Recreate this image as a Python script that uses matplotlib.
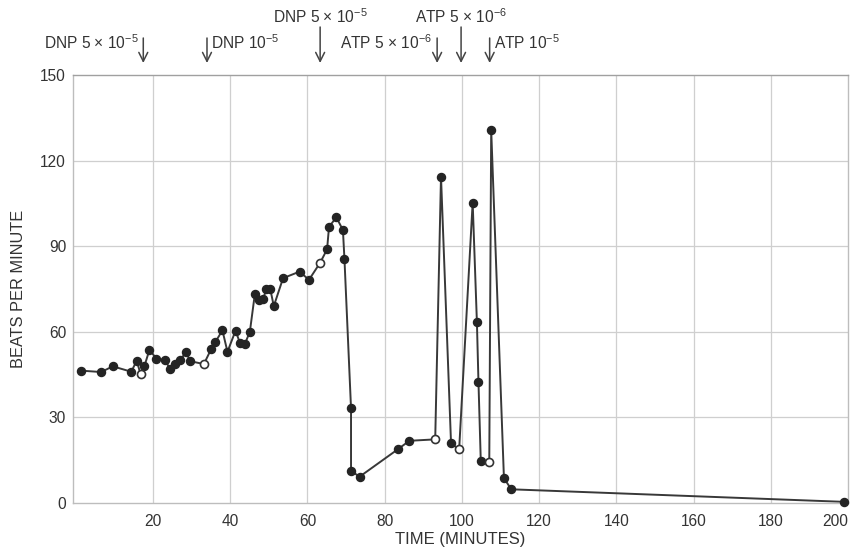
import matplotlib
matplotlib.use("Agg")
import matplotlib.pyplot as plt
from matplotlib.transforms import ScaledTranslation
import numpy as np

plt.rcParams['font.family'] = ['Liberation Sans', 'DejaVu Sans']
plt.rcParams['mathtext.fontset'] = 'custom'
plt.rcParams['mathtext.rm'] = 'Liberation Sans'

# Heart rate record: time (minutes) and beats per minute
time_min = [1.3, 6.6, 9.6, 14.4, 15.8, 16.8, 17.8, 19.1, 20.9, 23.2, 24.4, 25.6,
            27.1, 28.6, 29.6, 33.2, 35.1, 36.2, 38.0, 39.3, 41.4, 42.5, 43.8,
            45.1, 46.4, 47.5, 48.5, 49.4, 50.4, 51.3, 53.7, 58.0, 60.4, 63.3,
            65.1, 65.6, 67.5, 69.2, 69.6, 71.3, 71.3, 73.5, 83.4, 86.4, 93.1,
            94.6, 97.2, 99.3, 102.8, 103.9, 104.3, 104.9, 107.1, 107.6, 110.9,
            112.8, 199.0]
beats = [46.4, 45.9, 47.9, 46.0, 49.9, 45.1, 48.0, 53.7, 50.6, 50.1, 46.9, 48.7,
         50.1, 53.0, 49.7, 48.7, 54.0, 56.5, 60.5, 53.0, 60.4, 56.2, 55.7,
         60.0, 73.3, 71.2, 71.5, 74.9, 74.9, 69.0, 78.8, 81.1, 78.2, 84.2,
         88.9, 96.8, 100.1, 95.7, 85.4, 33.2, 11.3, 9.2, 18.8, 21.8, 22.3,
         114.4, 20.9, 18.8, 105.3, 63.3, 42.5, 14.8, 14.5, 130.7, 8.7,
         4.8, 0.4]
# readings taken at the moment a drug was added (open circles)
at_addition = [16.8, 33.2, 63.3, 93.1, 99.3, 107.1]

# drug additions marked above the plot
drug_times = [17.5, 34.0, 63.3, 93.6, 99.8, 107.2]
drug_labels = [r"DNP 5 $\times$ 10$^{-5}$", r"DNP 10$^{-5}$",
               r"DNP 5 $\times$ 10$^{-5}$", r"ATP 5 $\times$ 10$^{-6}$",
               r"ATP 5 $\times$ 10$^{-6}$", r"ATP 10$^{-5}$"]
label_side = ["left", "right", "top", "left", "top", "right"]

x_ticks = [20, 40, 60, 80, 100, 120, 140, 160, 180, 200]
y_ticks = [0, 30, 60, 90, 120, 150]

W, H = 852, 552
fig = plt.figure(figsize=(W / 100, H / 100), dpi=100)
ax = fig.add_axes([73 / W, 1 - 503 / H, (848 - 73) / W, (503 - 75) / H])

ax.set_xlim(-0.7, 199.6)
ax.set_ylim(0, 150)

grid_c = '#cfcfcf'
for xv in x_ticks[:-1]:
    ax.axvline(xv, color=grid_c, lw=0.9, zorder=0)
for yv in y_ticks[1:-1]:
    ax.axhline(yv, color=grid_c, lw=0.9, zorder=0)
for side, sp in ax.spines.items():
    sp.set_color('#bdbdbd')
    sp.set_linewidth(1.0)
ax.spines['top'].set_color('#a0a0a0')

line_c = '#383838'
ax.plot(time_min, beats, color=line_c, lw=1.4, zorder=2, clip_on=False)
is_open = np.isin(time_min, at_addition)
t_arr = np.array(time_min)
b_arr = np.array(beats)
ax.plot(t_arr[~is_open], b_arr[~is_open], 'o', ms=5.8, mfc='#242424',
        mec='#242424', zorder=3, clip_on=False)
ax.plot(t_arr[is_open], b_arr[is_open], 'o', ms=5.8, mfc='white',
        mec='#333333', mew=1.2, zorder=3, clip_on=False)

ax.set_xticks(x_ticks)
ax.set_yticks(y_ticks)
ax.set_xticklabels([str(v) for v in x_ticks])
ax.set_yticklabels([str(v) for v in y_ticks])
ax.tick_params(length=0, labelsize=11.2, colors='#333333')
ax.tick_params(axis='y', pad=5)
ax.tick_params(axis='x', pad=8)
ax.set_xlabel("TIME (MINUTES)", fontsize=12, color='#333333', labelpad=2)
ax.set_ylabel("BEATS PER MINUTE", fontsize=11.8, color='#333333', labelpad=10)

# keep the last x tick label on the canvas
last = ax.get_xticklabels()[-1]
last.set_transform(last.get_transform() + ScaledTranslation(-0.13, 0, fig.dpi_scale_trans))

# arrows and drug labels above the frame
trans = ax.get_xaxis_transform()
ah = 503 - 75


def frac(py):
    return (503 - py) / ah


for t, lab, side in zip(drug_times, drug_labels, label_side):
    top_px = 27 if side == "top" else 38
    ax.annotate("", xy=(t, frac(63)), xycoords=trans,
                xytext=(t, frac(top_px)), textcoords=trans,
                arrowprops=dict(arrowstyle='->', lw=1.1, color='#444444',
                                mutation_scale=16, shrinkA=0, shrinkB=0),
                annotation_clip=False)
    if side == "top":
        ax.text(t, frac(17), lab, transform=trans, ha='center', va='center',
                fontsize=11.2, color='#333333', clip_on=False)
    elif side == "left":
        ax.text(t - 1.3, frac(43), lab, transform=trans, ha='right', va='center',
                fontsize=11.2, color='#333333', clip_on=False)
    else:
        ax.text(t + 1.0, frac(43), lab, transform=trans, ha='left', va='center',
                fontsize=11.2, color='#333333', clip_on=False)

fig.savefig("out.png", dpi=100, facecolor='white')
